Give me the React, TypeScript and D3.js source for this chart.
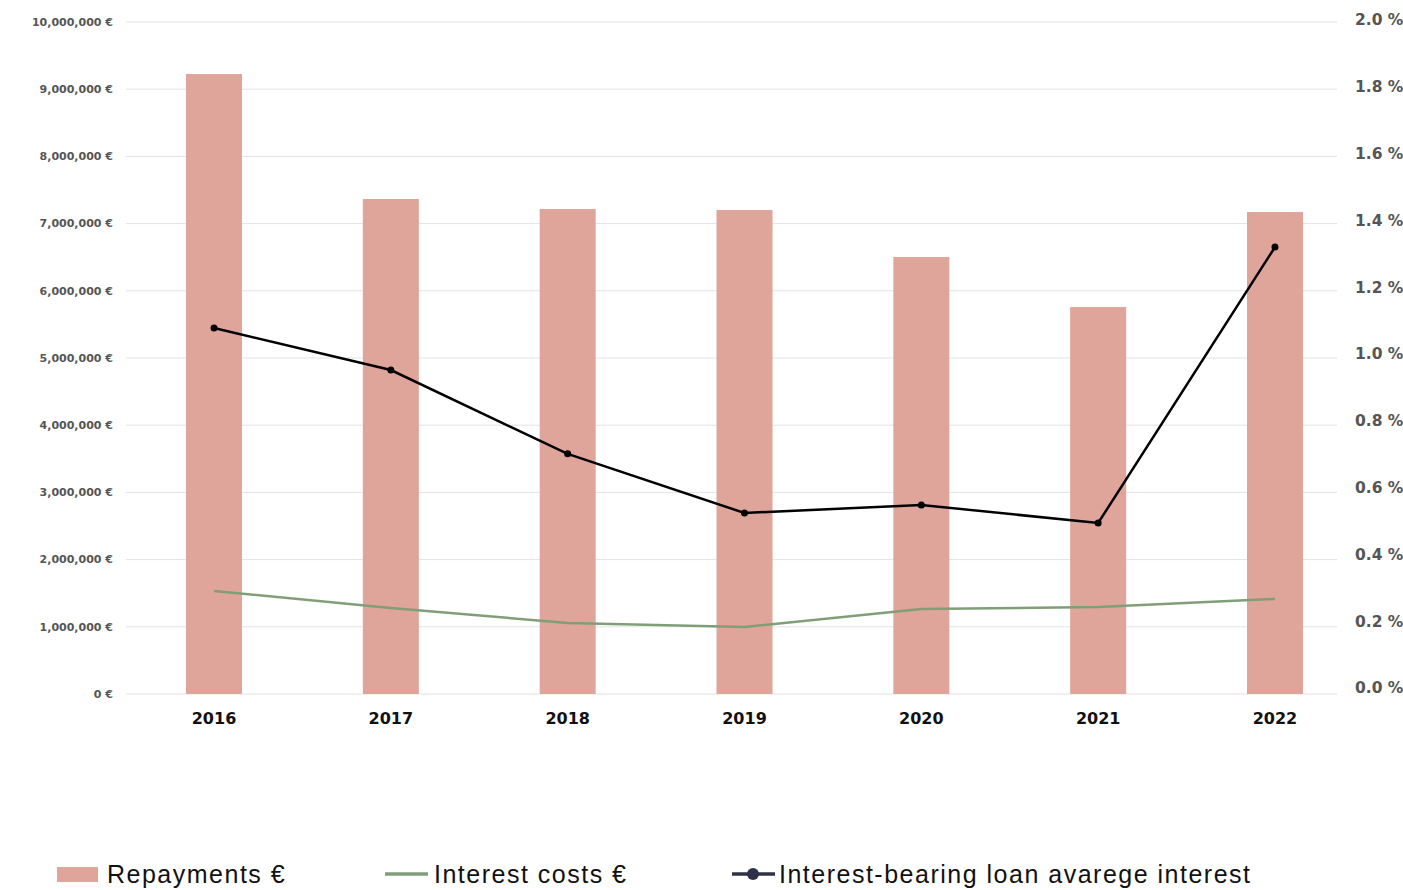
import React from "react";
import * as d3 from "d3";

const years = ["2016", "2017", "2018", "2019", "2020", "2021", "2022"];
const repayments = [9226000, 7366000, 7217000, 7202000, 6503000, 5759000, 7173000];
const interestCosts = [1533000, 1280000, 1057000, 997000, 1265000, 1295000, 1414000];
const avgInterest = [1.078, 0.952, 0.701, 0.524, 0.548, 0.494, 1.32];
const leftTicks = [0, 1e6, 2e6, 3e6, 4e6, 5e6, 6e6, 7e6, 8e6, 9e6, 10e6];
const rightTicks = [0, 0.2, 0.4, 0.6, 0.8, 1.0, 1.2, 1.4, 1.6, 1.8, 2.0];
const legendItems = ["Repayments €", "Interest costs €", "Interest-bearing loan avarege interest"];

const W = 1403;
const H = 890;
const top = 22;
const bottom = 694;
const gridLeft = 126;
const gridRight = 1337;

const BAR = "#dfa59a";
const GREEN = "#809e78";
const TICK_FONT = "'DejaVu Sans', Verdana, sans-serif";
const LEGEND_FONT = "'Liberation Sans', Arial, sans-serif";

export default function App() {
  const x = d3.scaleBand<string>().domain(years).range([125.6, 1363.4]).paddingInner(0.68).paddingOuter(0.34);
  const cx = (y: string) => (x(y) as number) + x.bandwidth() / 2;
  const yL = d3.scaleLinear().domain([0, 10e6]).range([bottom, top]);
  const yR = d3.scaleLinear().domain([0, 2]).range([688, 20]);
  const fmt = d3.format(",");
  const barW = 56;

  const greenLine = d3.line<number>().x((_, i) => cx(years[i])).y((d) => yL(d));
  const blackLine = d3.line<number>().x((_, i) => cx(years[i])).y((d) => yR(d));

  return (
    <svg width={W} height={H} style={{ position: "absolute", left: 0, top: 0, background: "#fff" }}>
      {leftTicks.map((t) => (
        <line key={"g" + t} x1={gridLeft} x2={gridRight} y1={yL(t)} y2={yL(t)} stroke="#e3e3e3" strokeWidth={1} />
      ))}
      {leftTicks.map((t) => (
        <text key={"l" + t} x={113} y={yL(t)} dy="0.35em" textAnchor="end" fontFamily={TICK_FONT} fontWeight={700} fontSize={11} fill="#555">
          {fmt(t)} €
        </text>
      ))}
      {rightTicks.map((t) => (
        <text key={"r" + t} x={1355} y={yR(t)} dy="0.35em" textAnchor="start" fontFamily={TICK_FONT} fontWeight={700} fontSize={15.5} fill="#555">
          {t.toFixed(1)} %
        </text>
      ))}
      {years.map((y, i) => (
        <rect key={"b" + y} x={cx(y) - barW / 2} y={yL(repayments[i])} width={barW} height={bottom - yL(repayments[i])} fill={BAR} />
      ))}
      {years.map((y) => (
        <text key={"x" + y} x={cx(y)} y={718} dy="0.35em" textAnchor="middle" fontFamily={TICK_FONT} fontWeight={700} fontSize={16} fill="#111">
          {y}
        </text>
      ))}
      <path d={greenLine(interestCosts) || ""} fill="none" stroke={GREEN} strokeWidth={2.5} />
      <path d={blackLine(avgInterest) || ""} fill="none" stroke="#000" strokeWidth={2.5} />
      {years.map((y, i) => (
        <circle key={"c" + y} cx={cx(y)} cy={yR(avgInterest[i])} r={3.5} fill="#000" />
      ))}
      {/* legend */}
      <g fontFamily={LEGEND_FONT} fontSize={25} fill="#111" letterSpacing={1.5}>
        <rect x={57} y={867} width={41} height={15} fill={BAR} />
        <text x={107} y={874} dy="0.35em">{legendItems[0]}</text>
        <line x1={385} x2={428} y1={874} y2={874} stroke={GREEN} strokeWidth={3.5} />
        <text x={434} y={874} dy="0.35em">{legendItems[1]}</text>
        <line x1={732} x2={775} y1={874} y2={874} stroke="#2f3147" strokeWidth={3.5} />
        <circle cx={753} cy={874} r={6} fill="#2f3147" />
        <text x={779} y={874} dy="0.35em">{legendItems[2]}</text>
      </g>
    </svg>
  );
}
